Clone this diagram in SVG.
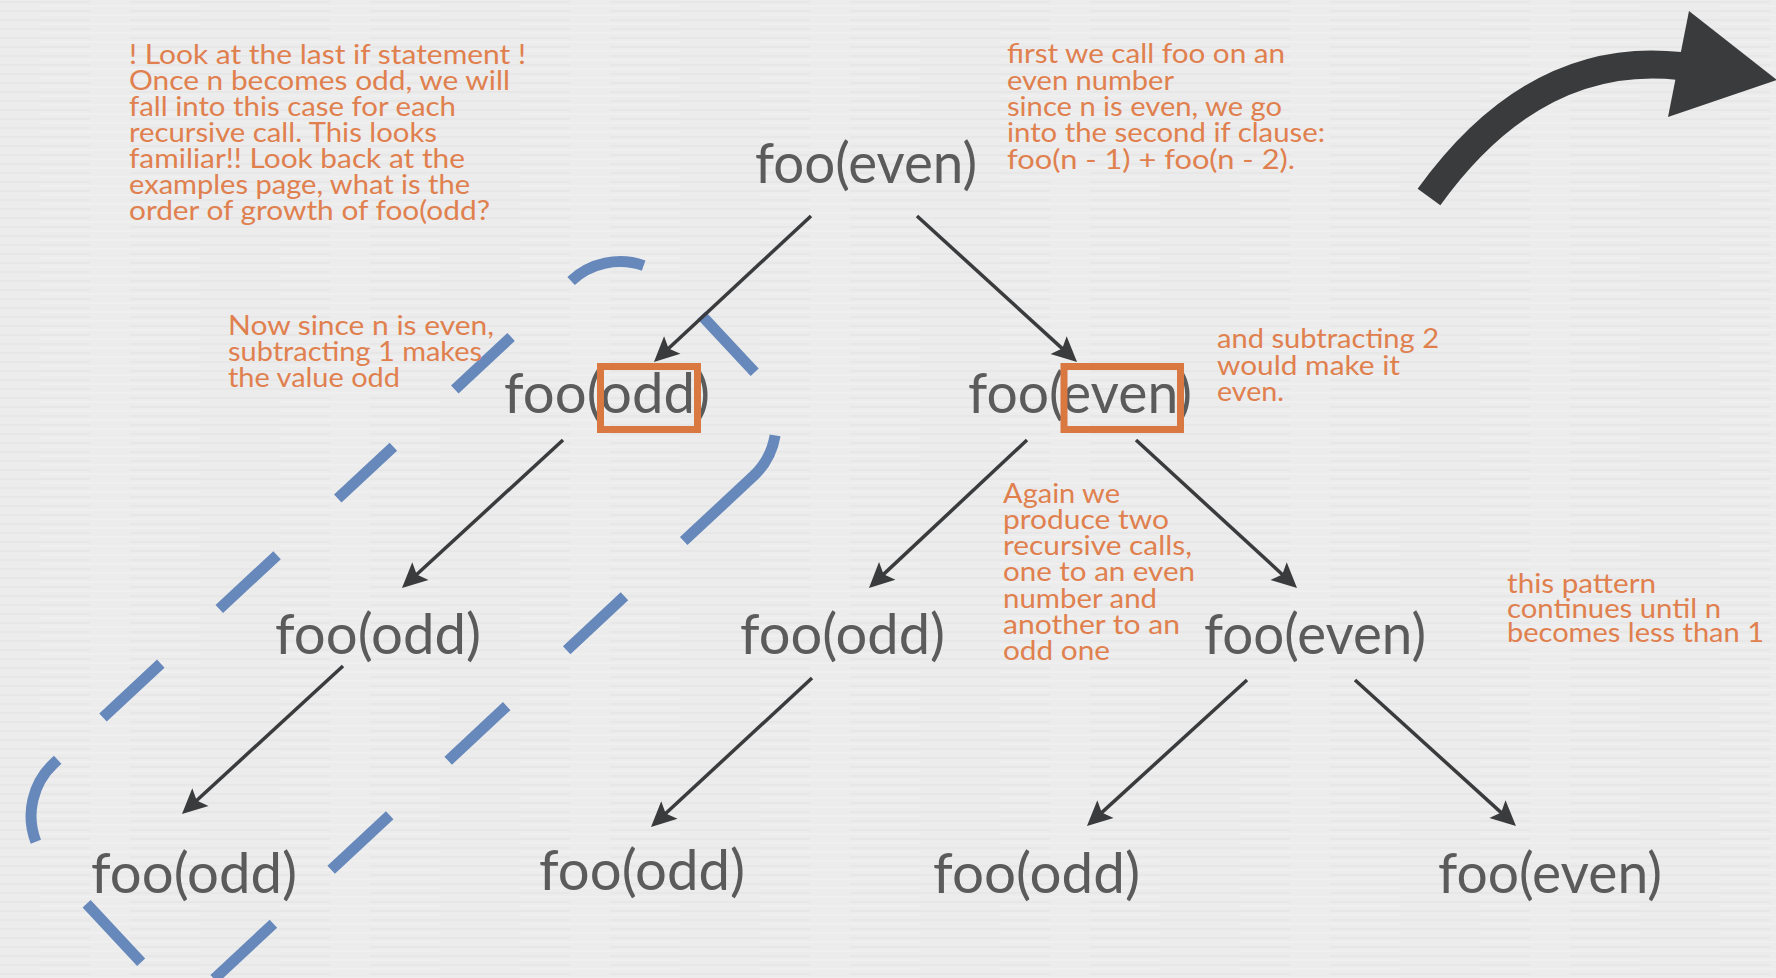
<svg xmlns="http://www.w3.org/2000/svg" width="1776" height="978" viewBox="0 0 1776 978">
<defs>
<pattern id="tex" width="240" height="9" patternUnits="userSpaceOnUse">
<rect width="240" height="9" fill="#ececec"/>
<path d="M0,2 H90 M130,2 H240" stroke="#e3e3e3" stroke-width="1.2"/>
<path d="M40,6 H200" stroke="#f3f3f3" stroke-width="1.2"/>
</pattern>
<marker id="ah" markerUnits="userSpaceOnUse" markerWidth="40" markerHeight="40" viewBox="-20 -20 40 40" refX="0" refY="0" orient="auto">
<path d="M14,0 L-11,-12 L-6,0 L-11,12 Z" fill="#3a3b3d"/>
</marker>
<style>
.node{font-family:Lato,"Liberation Sans",sans-serif;font-size:56px;fill:#5b5b5b;text-anchor:middle}
.note{font-family:Lato,"Liberation Sans",sans-serif;font-size:26px;fill:#e0804e}
.edge{stroke:#3a3b3d;stroke-width:3.5;fill:none;marker-end:url(#ah)}
.dash{stroke:#6688bb;stroke-width:11;fill:none;stroke-linecap:butt}
.box{stroke:#d97941;stroke-width:7;fill:none}
</style>
</defs>
<rect width="1776" height="978" fill="url(#tex)"/>

<g id="highlight" transform="rotate(-43)">
<path class="dash" d="M-414,595 H-335 M-255,595 H-176 M-93,595 H-17 M67,595 H144"/>
<path class="dash" d="M226,595 A72,72 0 0 1 289.6,633.2"/>
<path class="dash" d="M298,709 V787"/>
<path class="dash" d="M270,847 A72,72 0 0 1 226,862 H131"/>
<path class="dash" d="M50,862 H-29 M-111,862 H-191 M-271,862 H-351 M-430,862 H-511"/>
<path class="dash" d="M-553,720 V800"/>
<path class="dash" d="M-476,595 H-481 A72,72 0 0 0 -547.8,640"/>
</g>

<g id="connectors">
<line class="edge" x1="811" y1="216" x2="664.2" y2="352.5"/>
<line class="edge" x1="917" y1="216" x2="1066.7" y2="352.6"/>
<line class="edge" x1="563" y1="440" x2="412.3" y2="578.5"/>
<line class="edge" x1="1027" y1="440" x2="879.2" y2="578.4"/>
<line class="edge" x1="1136" y1="440" x2="1286.7" y2="578.5"/>
<line class="edge" x1="343" y1="666" x2="192.3" y2="804.5"/>
<line class="edge" x1="812" y1="678" x2="661.3" y2="817.5"/>
<line class="edge" x1="1247" y1="680" x2="1097.3" y2="816.6"/>
<line class="edge" x1="1355" y1="680" x2="1505.6" y2="816.6"/>
</g>

<g id="n-root"><text class="node" x="866" y="183" textLength="222" lengthAdjust="spacingAndGlyphs">foo(even)</text></g>
<g id="n-l1"><text class="node" x="607" y="413" textLength="206" lengthAdjust="spacingAndGlyphs">foo(odd)</text><rect class="box" x="600.5" y="366.5" width="97" height="63"/></g>
<g id="n-r1"><text class="node" x="1080" y="413" textLength="224" lengthAdjust="spacingAndGlyphs">foo(even)</text><rect class="box" x="1064" y="366.5" width="116.5" height="63"/></g>
<g id="n-l2"><text class="node" x="378" y="654" textLength="206" lengthAdjust="spacingAndGlyphs">foo(odd)</text></g>
<g id="n-m2"><text class="node" x="842.5" y="654" textLength="205" lengthAdjust="spacingAndGlyphs">foo(odd)</text></g>
<g id="n-r2"><text class="node" x="1315" y="654" textLength="222" lengthAdjust="spacingAndGlyphs">foo(even)</text></g>
<g id="n-a3"><text class="node" x="194" y="893" textLength="206" lengthAdjust="spacingAndGlyphs">foo(odd)</text></g>
<g id="n-b3"><text class="node" x="642" y="890" textLength="206" lengthAdjust="spacingAndGlyphs">foo(odd)</text></g>
<g id="n-c3"><text class="node" x="1036.5" y="893" textLength="207" lengthAdjust="spacingAndGlyphs">foo(odd)</text></g>
<g id="n-d3"><text class="node" x="1550" y="893" textLength="224" lengthAdjust="spacingAndGlyphs">foo(even)</text></g>

<g id="note-last">
<text class="note" x="129" y="64" textLength="397" lengthAdjust="spacingAndGlyphs">! Look at the last if statement !</text>
<text class="note" x="129" y="90" textLength="381" lengthAdjust="spacingAndGlyphs">Once n becomes odd, we will</text>
<text class="note" x="129" y="116" textLength="327" lengthAdjust="spacingAndGlyphs">fall into this case for each</text>
<text class="note" x="129" y="142" textLength="308" lengthAdjust="spacingAndGlyphs">recursive call. This looks</text>
<text class="note" x="129" y="168" textLength="336" lengthAdjust="spacingAndGlyphs">familiar!! Look back at the</text>
<text class="note" x="129" y="194" textLength="341" lengthAdjust="spacingAndGlyphs">examples page, what is the</text>
<text class="note" x="129" y="220" textLength="361" lengthAdjust="spacingAndGlyphs">order of growth of foo(odd?</text>
</g>
<g id="note-first">
<text class="note" x="1007" y="63" textLength="278" lengthAdjust="spacingAndGlyphs">first we call foo on an</text>
<text class="note" x="1007" y="90" textLength="167" lengthAdjust="spacingAndGlyphs">even number</text>
<text class="note" x="1007" y="116" textLength="275" lengthAdjust="spacingAndGlyphs">since n is even, we go</text>
<text class="note" x="1007" y="142" textLength="318" lengthAdjust="spacingAndGlyphs">into the second if clause:</text>
<text class="note" x="1007" y="169" textLength="288" lengthAdjust="spacingAndGlyphs">foo(n - 1) + foo(n - 2).</text>
</g>
<g id="note-now">
<text class="note" x="228" y="335" textLength="266" lengthAdjust="spacingAndGlyphs">Now since n is even,</text>
<text class="note" x="228" y="361" textLength="254" lengthAdjust="spacingAndGlyphs">subtracting 1 makes</text>
<text class="note" x="228" y="387" textLength="172" lengthAdjust="spacingAndGlyphs">the value odd</text>
</g>
<g id="note-and">
<text class="note" x="1217" y="348" textLength="222" lengthAdjust="spacingAndGlyphs">and subtracting 2</text>
<text class="note" x="1217" y="375" textLength="183" lengthAdjust="spacingAndGlyphs">would make it</text>
<text class="note" x="1217" y="401" textLength="67" lengthAdjust="spacingAndGlyphs">even.</text>
</g>
<g id="note-again">
<text class="note" x="1003" y="503" textLength="117" lengthAdjust="spacingAndGlyphs">Again we</text>
<text class="note" x="1003" y="529" textLength="166" lengthAdjust="spacingAndGlyphs">produce two</text>
<text class="note" x="1003" y="555" textLength="189" lengthAdjust="spacingAndGlyphs">recursive calls,</text>
<text class="note" x="1003" y="581" textLength="192" lengthAdjust="spacingAndGlyphs">one to an even</text>
<text class="note" x="1003" y="608" textLength="154" lengthAdjust="spacingAndGlyphs">number and</text>
<text class="note" x="1003" y="634" textLength="177" lengthAdjust="spacingAndGlyphs">another to an</text>
<text class="note" x="1003" y="660" textLength="107" lengthAdjust="spacingAndGlyphs">odd one</text>
</g>
<g id="note-pattern">
<text class="note" x="1507" y="593" textLength="149" lengthAdjust="spacingAndGlyphs">this pattern</text>
<text class="note" x="1507" y="618" textLength="214" lengthAdjust="spacingAndGlyphs">continues until n</text>
<text class="note" x="1507" y="642" textLength="257" lengthAdjust="spacingAndGlyphs">becomes less than 1</text>
</g>

<g id="next-arrow">
<path d="M1429,197 Q1535,50 1680,66" stroke="#3a3b3d" stroke-width="28" fill="none"/>
<path d="M1689,11 L1777,80 L1668,117 Z" fill="#3a3b3d"/>
</g>
</svg>
